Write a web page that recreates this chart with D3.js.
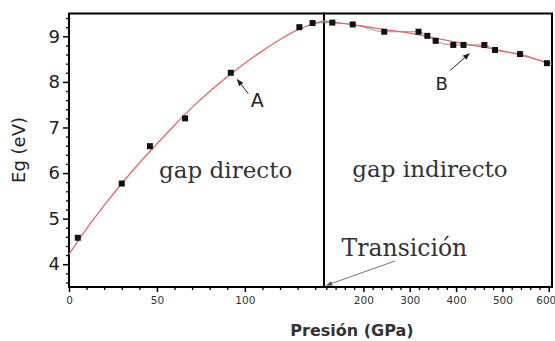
<!DOCTYPE html>
<html><head><meta charset="utf-8">
<script src="https://cdn.jsdelivr.net/npm/d3@7"></script>
<style>body{margin:0;background:#fff}</style>
</head><body><svg id="c" width="555" height="341"></svg>
<script>
// ---- data ----
const leftP = [5, 30, 46, 66, 92, 131, 138.5];
const leftE = [4.58, 5.77, 6.59, 7.20, 8.20, 9.20, 9.29];
const rightP = [133, 177, 245, 319, 338, 356, 394, 416, 461, 484, 538, 596];
const rightE = [9.30, 9.26, 9.10, 9.10, 9.01, 8.90, 8.81, 8.81, 8.81, 8.70, 8.61, 8.41];
const fitLeftP = [0, 10, 20, 30, 40, 50, 60, 70, 80, 90, 100, 110, 120, 130, 140, 145];
const fitLeftE = [4.22, 4.78, 5.29, 5.77, 6.22, 6.64, 7.05, 7.44, 7.79, 8.11, 8.41, 8.68, 8.93, 9.14, 9.29, 9.34];
const fitRightP = [115, 150, 200, 250, 300, 350, 400, 450, 500, 550, 607];
const fitRightE = [9.33, 9.29, 9.22, 9.14, 9.07, 8.97, 8.87, 8.78, 8.68, 8.56, 8.39];
const yTicks = [4, 5, 6, 7, 8, 9];
const xTicksLeft = [0, 50, 100];
const xTicksRight = [200, 300, 400, 500, 600];
const yLabel = "Eg (eV)";
const xLabel = "Presión (GPa)";

(function () {
// ---- layout ----
const svg = d3.select("#c");
const pTop = 13.5, pBottom = 287, x0 = 69, xs = 324, x1 = 552;
const y = d3.scaleLinear().domain([3.5, 9.5]).range([pBottom, pTop]);
const xL = d3.scaleLinear().domain([0, 145]).range([x0, xs]);
const xR = d3.scaleLinear().domain([115, 607]).range([xs, x1]);

// axes: y
const yMinor = d3.range(3.6, 9.5, 0.2).map(v => +v.toFixed(1)).filter(v => !yTicks.includes(v));
svg.append("g").attr("transform", `translate(${x0},0)`)
  .call(d3.axisLeft(y).tickValues(yMinor).tickSize(3).tickFormat(""))
  .call(g => g.select(".domain").remove())
  .selectAll("line").attr("stroke", "#000").attr("stroke-width", 1.3);
const ya = svg.append("g").attr("transform", `translate(${x0},0)`)
  .call(d3.axisLeft(y).tickValues(yTicks).tickSize(6).tickPadding(3).tickFormat(d3.format("d")));
ya.select(".domain").remove();
ya.selectAll("line").attr("stroke", "#000").attr("stroke-width", 1.5);
ya.selectAll("text").attr("font-family", "DejaVu Sans, sans-serif").attr("font-size", 18).attr("fill", "#222");

// axes: x
function xAxis(scale, majors, minorVals) {
  svg.append("g").attr("transform", `translate(0,${pBottom})`)
    .call(d3.axisBottom(scale).tickValues(minorVals.filter(v => !majors.includes(v))).tickSize(3).tickFormat(""))
    .call(g => g.select(".domain").remove())
    .selectAll("line").attr("stroke", "#000").attr("stroke-width", 1.3);
  const a = svg.append("g").attr("transform", `translate(0,${pBottom})`)
    .call(d3.axisBottom(scale).tickValues(majors).tickSize(5).tickPadding(5).tickFormat(d3.format("d")));
  a.select(".domain").remove();
  a.selectAll("line").attr("stroke", "#000").attr("stroke-width", 1.5);
  a.selectAll("text").attr("font-family", "DejaVu Sans, sans-serif").attr("font-size", 10.5).attr("fill", "#333");
  return a;
}
xAxis(xL, xTicksLeft, d3.range(0, 145, 10));
const ra = xAxis(xR, xTicksRight, d3.range(120, 607, 20));
ra.selectAll("text").filter(d => d === 600).attr("dx", -3);

// frames
svg.append("rect").attr("x", x0).attr("y", pTop).attr("width", xs - x0).attr("height", pBottom - pTop)
  .attr("fill", "none").attr("stroke", "#000").attr("stroke-width", 2);
svg.append("rect").attr("x", xs).attr("y", pTop).attr("width", x1 - xs).attr("height", pBottom - pTop)
  .attr("fill", "none").attr("stroke", "#000").attr("stroke-width", 2);

// fits
const lineL = d3.line().x(d => xL(d[0])).y(d => y(d[1])).curve(d3.curveMonotoneX);
const lineR = d3.line().x(d => xR(d[0])).y(d => y(d[1])).curve(d3.curveMonotoneX);
svg.append("path").attr("d", lineL(fitLeftP.map((p, i) => [p, fitLeftE[i]])))
  .attr("fill", "none").attr("stroke", "#e7676b").attr("stroke-width", 1.3);
svg.append("path").attr("d", lineR(rightP.map((p, i) => [p, rightE[i]])))
  .attr("fill", "none").attr("stroke", "#555").attr("stroke-width", 0.8).attr("opacity", 0.8);
svg.append("path").attr("d", lineR(fitRightP.map((p, i) => [p, fitRightE[i]])))
  .attr("fill", "none").attr("stroke", "#e7676b").attr("stroke-width", 1.3);
svg.append("line")
  .attr("x1", xL(leftP[leftP.length - 1])).attr("y1", y(leftE[leftE.length - 1]))
  .attr("x2", xR(rightP[0])).attr("y2", y(rightE[0]))
  .attr("stroke", "#777").attr("stroke-width", 0.8);

// points
const s = 6;
svg.append("g").selectAll("rect").data(leftP.map((p, i) => [p, leftE[i]])).join("rect")
  .attr("x", d => xL(d[0]) - s / 2).attr("y", d => y(d[1]) - s / 2).attr("width", s).attr("height", s).attr("fill", "#111");
svg.append("g").selectAll("rect").data(rightP.map((p, i) => [p, rightE[i]])).join("rect")
  .attr("x", d => xR(d[0]) - s / 2).attr("y", d => y(d[1]) - s / 2).attr("width", s).attr("height", s).attr("fill", "#111");

// arrow markers
const defs = svg.append("defs");
defs.append("marker").attr("id", "ah").attr("viewBox", "0 0 10 10").attr("refX", 9).attr("refY", 5)
  .attr("markerWidth", 7).attr("markerHeight", 7).attr("orient", "auto")
  .append("path").attr("d", "M0,1 L10,5 L0,9 Z").attr("fill", "#222");
defs.append("marker").attr("id", "ahg").attr("viewBox", "0 0 10 10").attr("refX", 9).attr("refY", 5)
  .attr("markerWidth", 7).attr("markerHeight", 7).attr("orient", "auto")
  .append("path").attr("d", "M0,1 L10,5 L0,9 Z").attr("fill", "#555");

function arrow(sx, p0, e0, p1, e1, id, col, w) {
  svg.append("line").attr("x1", sx(p0)).attr("y1", y(e0)).attr("x2", sx(p1)).attr("y2", y(e1))
    .attr("stroke", col).attr("stroke-width", w).attr("marker-end", `url(#${id})`);
}
arrow(xL, 102, 7.74, 95.7, 8.05, "ah", "#222", 1);
arrow(xR, 387, 8.25, 428.6, 8.62, "ah", "#222", 1);
arrow(xR, 268, 4.07, 120.8, 3.54, "ahg", "#666", 0.9);

// labels
const sans = "DejaVu Sans, sans-serif", serif = "DejaVu Serif, serif";
svg.append("text").attr("x", xL(107)).attr("y", y(7.59)).attr("dy", "0.35em").attr("text-anchor", "middle")
  .attr("font-family", sans).attr("font-size", 19).attr("fill", "#222").text("A");
svg.append("text").attr("x", xR(369)).attr("y", y(7.96)).attr("dy", "0.35em").attr("text-anchor", "middle")
  .attr("font-family", sans).attr("font-size", 18).attr("fill", "#222").text("B");
svg.append("text").attr("x", xL(89.1)).attr("y", y(5.886)).attr("text-anchor", "middle")
  .attr("font-family", serif).attr("font-size", 23).attr("fill", "#333").text("gap directo");
svg.append("text").attr("x", xR(343.7)).attr("y", y(5.91)).attr("text-anchor", "middle")
  .attr("font-family", serif).attr("font-size", 23).attr("fill", "#333").text("gap indirecto");
svg.append("text").attr("x", xR(153)).attr("y", y(4.18)).attr("text-anchor", "start")
  .attr("font-family", serif).attr("font-size", 23.5).attr("fill", "#333").text("Transición");

svg.append("text").attr("transform", "translate(25,150) rotate(-90)").attr("text-anchor", "middle")
  .attr("font-family", sans).attr("font-size", 18).attr("fill", "#222").text(yLabel);
svg.append("text").attr("x", 352).attr("y", 336).attr("text-anchor", "middle")
  .attr("font-family", sans).attr("font-size", 16).attr("font-weight", "bold").attr("fill", "#333").text(xLabel);
})();
</script></body></html>
